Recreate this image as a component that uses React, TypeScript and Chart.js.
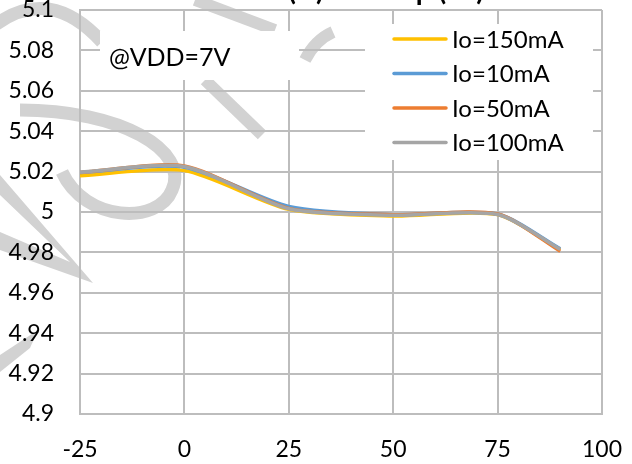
import React, { useEffect, useRef } from "react";
import { Chart, registerables } from "chart.js";

Chart.register(...registerables);

const temps = [-25, 0, 25, 50, 75, 90];
const io150 = [5.018, 5.0205, 5.0013, 4.998, 4.9987, 4.9812];
const io10 = [5.0195, 5.0222, 5.0028, 4.9987, 4.999, 4.9818];
const io50 = [5.0196, 5.0228, 5.0018, 4.9987, 4.999, 4.9806];
const io100 = [5.0197, 5.0225, 5.0016, 4.9984, 4.9988, 4.9815];

const seriesNames = ["Io=150mA", "Io=10mA", "Io=50mA", "Io=100mA"];
const seriesColors = ["#FFC000", "#5B9BD5", "#ED7D31", "#A5A5A5"];
const seriesValues = [io150, io10, io50, io100];

const xTicks = [-25, 0, 25, 50, 75, 100];
const yMin = 4.9;
const yMax = 5.1;
const yStep = 0.02;

const titleText = "Vout (V) vs Temp (°C)";
const noteText = "@VDD=7V";
const FONT = "Lato";

const watermark = {
  id: "watermark",
  beforeDraw(chart: any) {
    const ctx = chart.ctx;
    ctx.save();
    ctx.strokeStyle = "#d2d2d2";
    ctx.lineCap = "butt";
    ctx.lineWidth = 13;
    ctx.beginPath();
    ctx.moveTo(-5, 25);
    ctx.quadraticCurveTo(50, -15, 102, 42);
    ctx.stroke();
    ctx.beginPath();
    ctx.moveTo(20, 110);
    ctx.bezierCurveTo(120, 110, 190, 150, 172, 190);
    ctx.bezierCurveTo(158, 225, 85, 222, 62, 172);
    ctx.stroke();
    ctx.fillStyle = "#d2d2d2";
    ctx.beginPath();
    ctx.moveTo(0, 175);
    ctx.lineTo(93, 283);
    ctx.lineTo(0, 250);
    ctx.lineTo(0, 232);
    ctx.lineTo(70, 262);
    ctx.lineTo(0, 195);
    ctx.closePath();
    ctx.fill();
    ctx.beginPath();
    ctx.moveTo(0, 355);
    ctx.lineTo(38, 330);
    ctx.lineTo(30, 348);
    ctx.lineTo(0, 372);
    ctx.closePath();
    ctx.fill();
    ctx.lineWidth = 12;
    ctx.beginPath();
    ctx.moveTo(195, 0);
    ctx.lineTo(275, 30);
    ctx.stroke();
    ctx.beginPath();
    ctx.moveTo(205, 80);
    ctx.lineTo(262, 135);
    ctx.stroke();
    ctx.beginPath();
    ctx.moveTo(305, 60);
    ctx.quadraticCurveTo(315, 40, 333, 32);
    ctx.stroke();
    ctx.restore();
  },
};

const overlay = {
  id: "overlay",
  afterDraw(chart: any) {
    const ctx = chart.ctx;
    ctx.save();
    // title (mostly outside the view)
    ctx.fillStyle = "#000";
    ctx.font = `bold 28px ${FONT}`;
    ctx.textAlign = "right";
    ctx.textBaseline = "alphabetic";
    ctx.fillText(titleText, 484, 0);
    // note box
    ctx.fillStyle = "#fff";
    ctx.fillRect(100, 31, 199, 49);
    ctx.fillStyle = "#000";
    ctx.font = `25px ${FONT}`;
    ctx.textAlign = "left";
    ctx.textBaseline = "middle";
    ctx.fillText(noteText, 109, 58);
    // legend box
    ctx.fillStyle = "#fff";
    ctx.fillRect(365, 24, 228, 136);
    ctx.font = `24px ${FONT}`;
    const ys = [39, 73.5, 108, 142.5];
    seriesNames.forEach((name, i) => {
      ctx.strokeStyle = seriesColors[i];
      ctx.lineWidth = 3.5;
      ctx.lineCap = "round";
      ctx.beginPath();
      ctx.moveTo(394, ys[i]);
      ctx.lineTo(446, ys[i]);
      ctx.stroke();
      ctx.fillStyle = "#000";
      ctx.fillText(name, 452, ys[i] + 1);
    });
    ctx.restore();
  },
};

export default function App() {
  const ref = useRef<HTMLCanvasElement | null>(null);
  useEffect(() => {
    if (!ref.current) return;
    const datasets = seriesNames.map((name, i) => ({
      label: name,
      data: temps.map((t, j) => ({ x: t, y: seriesValues[i][j] })),
      borderColor: seriesColors[i],
      backgroundColor: seriesColors[i],
      borderWidth: 3.5,
      pointRadius: 0,
      showLine: true,
      tension: 0.25,
      fill: false,
      order: 3 - i,
    }));
    const chart = new Chart(ref.current, {
      type: "scatter",
      data: { datasets },
      options: {
        responsive: false,
        animation: false,
        devicePixelRatio: 1,
        layout: { padding: { left: 0, right: 30, top: 10, bottom: 0 } },
        plugins: { legend: { display: false }, tooltip: { enabled: false }, title: { display: false } },
        scales: {
          x: {
            type: "linear",
            min: -25,
            max: 100,
            afterBuildTicks: (s: any) => {
              s.ticks = xTicks.map((v) => ({ value: v }));
            },
            afterFit: (s: any) => {
              s.height = 50;
              s.paddingLeft = 0;
              s.paddingRight = 0;
              s.paddingTop = 0;
              s.paddingBottom = 0;
            },
            grid: { color: "#bdbdbd", lineWidth: 2, drawTicks: false },
            border: { color: "#bdbdbd", width: 2 },
            ticks: {
              color: "#000",
              padding: 22,
              font: { family: FONT, size: 23 },
              maxRotation: 0,
              autoSkip: false,
            },
          },
          y: {
            type: "linear",
            min: yMin,
            max: yMax,
            afterBuildTicks: (s: any) => {
              const t = [];
              for (let k = 0; k <= Math.round((yMax - yMin) / yStep); k++) t.push({ value: yMin + k * yStep });
              s.ticks = t;
            },
            afterFit: (s: any) => {
              s.width = 80;
              s.paddingLeft = 0;
              s.paddingRight = 0;
              s.paddingTop = 0;
              s.paddingBottom = 0;
            },
            grid: { color: "#bdbdbd", lineWidth: 2, drawTicks: false },
            border: { color: "#bdbdbd", width: 2 },
            ticks: {
              color: "#000",
              padding: 26,
              font: { family: FONT, size: 23 },
              autoSkip: false,
              callback: (v: any) => String(Number(Number(v).toFixed(2))),
            },
          },
        },
      },
      plugins: [watermark, overlay],
    });
    return () => chart.destroy();
  }, []);
  return (
    <div style={{ position: "absolute", left: 0, top: 0, width: 632, height: 464 }}>
      <canvas ref={ref} width={632} height={464} style={{ display: "block", width: 632, height: 464 }} />
    </div>
  );
}
